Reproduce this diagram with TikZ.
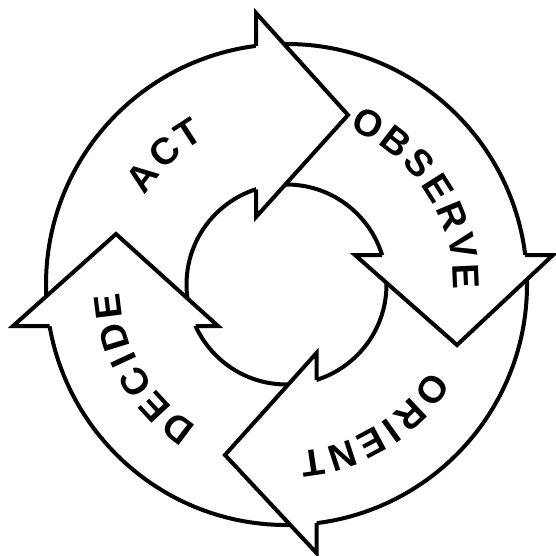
\documentclass[tikz,border=0pt]{standalone}
\usepackage{fontspec}
\newfontfamily\lblfont{Liberation Sans}
\begin{document}
\begin{tikzpicture}[x=1pt,y=-1pt,
  ring/.style={draw=black, line width=4pt},
  headfill/.style={fill=white, draw=none},
  headline/.style={draw=black, line width=4pt, line join=miter, miter limit=10},
  letter/.style={font=\lblfont\bfseries\fontsize{37.5pt}{37.5pt}\selectfont, inner sep=0pt, anchor=center}]
\useasboundingbox[fill=white] (0,0) rectangle (555,556);
\coordinate (C) at (286.5,284.5);
% ring
\draw[ring] (C) circle[radius=240.5];
\draw[ring] (C) circle[radius=100];
% arrow heads: white fill hides the ring under them
\path[headfill] (256,13) -- (348,115) -- (256,217) -- cycle;
\path[headfill] (553,255) -- (457,345) -- (355,255) -- cycle;
\path[headfill] (316.5,553) -- (225,455) -- (316.5,353) -- cycle;
\path[headfill] (13,326) -- (116,234) -- (218,326) -- cycle;
% arrow head outlines
\draw[headline] (256,45.94) -- (256,13) -- (348,115) -- (256,217) -- (256,189.26);
\draw[headline] (525.18,255) -- (553,255) -- (457,345) -- (355,255) -- (382.05,255);
\draw[headline] (316.5,523.12) -- (316.5,553) -- (225,455) -- (316.5,353) -- (316.5,379.89);
\draw[headline] (49.61,326) -- (13,326) -- (116,234) -- (218,326) -- (195.52,326);
% labels
\foreach \ch/\ang [count=\i] in {A/143.14, C/132.72, T/122.96}
  \node[letter, rotate={\ang-90}] (act\i) at ({286.5+180*cos(\ang)},{284.5-180*sin(\ang)}) {\ch};
\foreach \ch/\ang [count=\i] in {O/63.07, B/52.33, S/42.24, E/32.47, R/22.38, V/12.29, E/2.53}
  \node[letter, rotate={\ang-90}] (obs\i) at ({286.5+180*cos(\ang)},{284.5-180*sin(\ang)}) {\ch};
\foreach \ch/\ang [count=\i] in {O/-35.77, R/-46.51, I/-54.31, E/-61.78, N/-71.87, T/-81.63}
  \node[letter, rotate={\ang-90}] (ori\i) at ({286.5+180*cos(\ang)},{284.5-180*sin(\ang)}) {\ch};
\foreach \ch/\ang [count=\i] in {D/232.98, E/222.89, C/212.8, I/205.0, D/197.21, E/187.12}
  \node[letter, rotate={\ang-90}] (dec\i) at ({286.5+180*cos(\ang)},{284.5-180*sin(\ang)}) {\ch};
\end{tikzpicture}
\end{document}
